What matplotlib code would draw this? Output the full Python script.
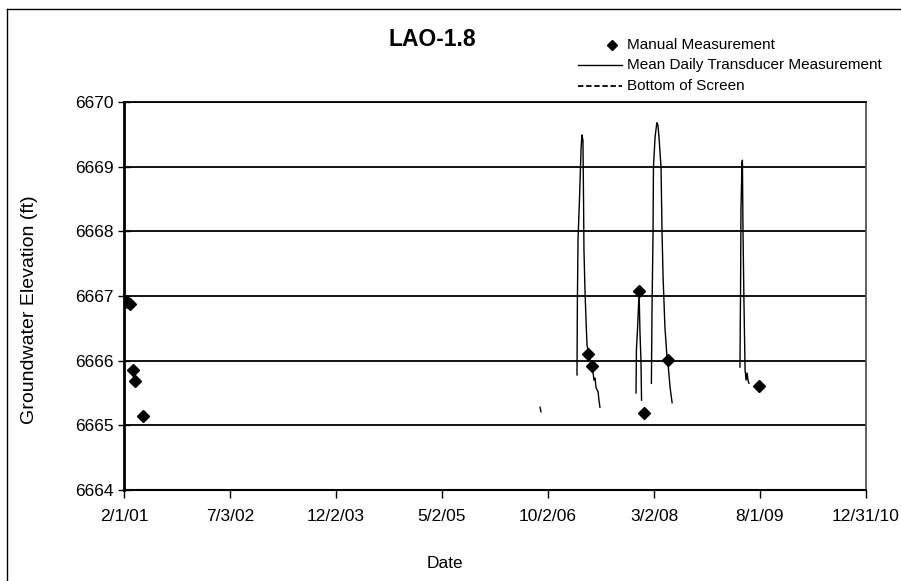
import matplotlib
matplotlib.use("Agg")
import matplotlib.pyplot as plt
from matplotlib.lines import Line2D
import datetime as dt

plt.rcParams['font.family'] = ['Liberation Sans', 'DejaVu Sans']

# ---- Data ----
manual_dates = ["2001-02-16", "2001-03-02", "2001-03-17", "2001-03-27", "2001-05-05",
                "2007-04-15", "2007-05-04", "2007-12-20", "2008-01-13", "2008-05-09",
                "2009-07-27"]
manual_values = [6666.90, 6666.88, 6665.85, 6665.69, 6665.15,
                 6666.10, 6665.92, 6667.07, 6665.19, 6666.01,
                 6665.61]

# transducer segments (separate records)
seg0_dates = ["2006-08-24", "2006-08-28"]
seg0_values = [6665.28, 6665.21]

seg1_dates = ["2007-02-20", "2007-02-22", "2007-02-25", "2007-03-04", "2007-03-12",
              "2007-03-16", "2007-03-21", "2007-03-24", "2007-03-26", "2007-03-31",
              "2007-04-05", "2007-04-10", "2007-04-20", "2007-04-29", "2007-05-09",
              "2007-05-14", "2007-05-19", "2007-05-24", "2007-06-03", "2007-06-07",
              "2007-06-12"]
seg1_values = [6665.78, 6666.94, 6667.87, 6668.48, 6669.29,
               6669.49, 6669.41, 6668.48, 6667.71, 6667.09,
               6666.63, 6666.24, 6666.09, 6665.93, 6665.82,
               6665.70, 6665.73, 6665.58, 6665.52, 6665.39,
               6665.28]

seg2_dates = ["2007-12-05", "2007-12-07", "2007-12-12", "2007-12-20", "2007-12-24",
              "2007-12-29", "2008-01-01"]
seg2_values = [6665.50, 6666.17, 6666.47, 6667.06, 6666.47, 6666.01, 6665.39]

seg3_dates = ["2008-02-18", "2008-02-21", "2008-02-26", "2008-02-28", "2008-03-07",
              "2008-03-14", "2008-03-16", "2008-03-21", "2008-03-26", "2008-04-05",
              "2008-04-10", "2008-04-15", "2008-04-24", "2008-05-04", "2008-05-09",
              "2008-05-19", "2008-05-29"]
seg3_values = [6665.65, 6666.78, 6667.97, 6668.99, 6669.46,
               6669.64, 6669.68, 6669.64, 6669.46, 6668.99,
               6667.97, 6667.29, 6666.52, 6666.06, 6665.96,
               6665.59, 6665.35]

seg4_dates = ["2009-04-25", "2009-04-28", "2009-04-30", "2009-05-05", "2009-05-07",
              "2009-05-10", "2009-05-15", "2009-05-20", "2009-05-25", "2009-05-30",
              "2009-06-03", "2009-06-08"]
seg4_values = [6665.90, 6667.09, 6668.33, 6669.06, 6669.10,
               6667.97, 6666.83, 6665.86, 6665.70, 6665.81,
               6665.70, 6665.65]

y_ticks = [6664, 6665, 6666, 6667, 6668, 6669, 6670]
x_start = "2001-02-01"
x_end = "2010-12-31"
n_x_intervals = 7

legend_labels = ["Manual Measurement", "Mean Daily Transducer Measurement", "Bottom of Screen"]


def todates(lst):
    return [dt.datetime.strptime(s, "%Y-%m-%d") for s in lst]


fig = plt.figure(figsize=(9.01, 5.81), dpi=100)
W, H = 901, 581
ax = fig.add_axes([124 / W, 1 - 490 / H, (866 - 124) / W, (490 - 102) / H])

for d, v in [(seg0_dates, seg0_values), (seg1_dates, seg1_values), (seg2_dates, seg2_values),
             (seg3_dates, seg3_values), (seg4_dates, seg4_values)]:
    ax.plot(todates(d), v, color='black', lw=1.0, zorder=3)

ax.plot(todates(manual_dates), manual_values, linestyle='none', marker='D',
        markersize=6, color='black', zorder=4)

x0 = dt.datetime.strptime(x_start, "%Y-%m-%d")
x1 = dt.datetime.strptime(x_end, "%Y-%m-%d")
ax.set_xlim(x0, x1)
ax.set_ylim(y_ticks[0], y_ticks[-1])
step = (x1 - x0) / n_x_intervals
ticks = [x0 + step * i for i in range(n_x_intervals + 1)]
ax.set_xticks(ticks)
lab_dates = [(t + dt.timedelta(hours=12)).date() for t in ticks]
ax.set_xticklabels([f"{t.month}/{t.day}/{t.strftime('%y')}" for t in lab_dates])
ax.set_yticks(y_ticks)
ax.set_yticklabels([str(t) for t in y_ticks])

ax.yaxis.grid(True, color='black', lw=1.3)
ax.set_axisbelow(True)
ax.tick_params(axis='x', direction='out', length=6, width=1, labelsize=12.5, pad=8)
ax.tick_params(axis='y', direction='inout', length=9, width=1, labelsize=12.5, pad=3)

ax.spines['left'].set_linewidth(2.0)
ax.spines['bottom'].set_linewidth(1.5)
ax.spines['top'].set_linewidth(1.3)
ax.spines['right'].set_linewidth(1.3)
ax.spines['right'].set_color('#555555')

fig.text(432 / W, 1 - 40 / H, "LAO-1.8", ha='center', va='center', fontsize=16.5, fontweight='bold')
fig.text(445 / W, 1 - 563 / H, "Date", ha='center', va='center', fontsize=12.5)
fig.text(30 / W, 1 - 310 / H, "Groundwater Elevation (ft)", ha='center', va='center',
         rotation=90, fontsize=14)

# legend drawn in figure pixel positions
tf = fig.transFigure
fig.add_artist(Line2D([612 / W], [1 - 45 / H], linestyle='none', marker='D', markersize=5,
                      color='black', transform=tf))
fig.add_artist(Line2D([578 / W, 622 / W], [1 - 65 / H, 1 - 65 / H], color='black', lw=1.0,
                      transform=tf))
fig.add_artist(Line2D([578 / W, 622 / W], [1 - 86 / H, 1 - 86 / H], color='black', lw=1.3,
                      linestyle=(0, (3, 1.5)), transform=tf))
for i, (lab, yy) in enumerate(zip(legend_labels, [45, 65, 86])):
    fig.text(627 / W, 1 - yy / H, lab, ha='left', va='center', fontsize=11)

# outer chart border fragments (left and top)
fig.add_artist(Line2D([7 / W, 7 / W], [0, 1 - 9 / H], color='black', lw=1.0, transform=tf))
fig.add_artist(Line2D([7 / W, 1], [1 - 9 / H, 1 - 9 / H], color='black', lw=1.0, transform=tf))

fig.savefig("out.png", dpi=100)
